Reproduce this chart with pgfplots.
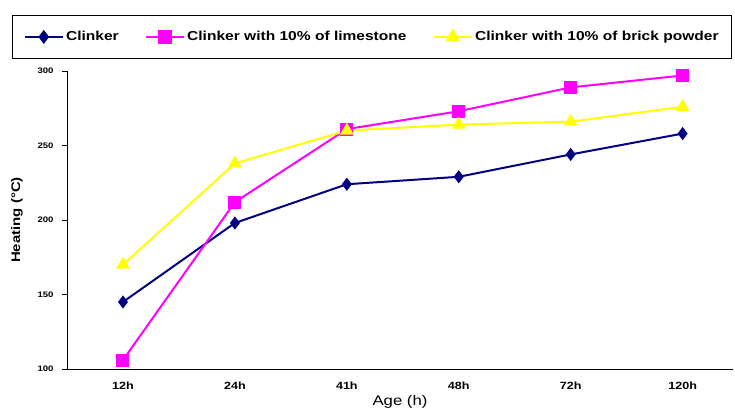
\documentclass[border=0pt]{standalone}
\usepackage{pgfplots}
\pgfplotsset{compat=1.18}
\usepackage{fontspec}
\setmainfont{Liberation Sans}[FakeStretch=1.2]
\definecolor{clk}{RGB}{0,0,128}
\definecolor{lim}{RGB}{255,0,255}
\definecolor{brk}{RGB}{255,255,0}
\begin{document}
\begin{tikzpicture}[x=1bp,y=1bp]
\useasboundingbox (0,0) rectangle (735,407);
\begin{axis}[
    at={(67bp,38bp)}, anchor=south west,
    scale only axis,
    width=666bp, height=298bp,
    xmin=-0.5, xmax=5.45,
    ymin=100, ymax=300,
    axis x line=bottom, axis y line=left,
    x axis line style={-, line width=1pt},
    y axis line style={-, line width=1pt},
    xtick={0,...,5},
    xticklabels={12h,24h,41h,48h,72h,120h},
    extra x ticks={0.5,1.5,2.5,3.5,4.5},
    extra x tick labels={},
    extra x tick style={major tick length=4bp, tick style={black, line width=0.8pt}},
    x tick style={draw=none},
    ytick={100,150,...,300},
    tick align=outside,
    major tick length=5bp,
    y tick style={black, line width=0.8pt},
    xticklabel style={font=\fontsize{10.5}{11}\selectfont\bfseries, yshift=-4bp},
    yticklabel style={font=\fontsize{8}{9}\selectfont\bfseries, xshift=-5bp},
    /pgf/number format/assume math mode=true,
    ylabel={\textbf{Heating (°C)}},
    ylabel style={font=\fontsize{12.5}{13}\selectfont, yshift=8bp},
    xlabel={Age (h)},
    xlabel style={font=\fontsize{14}{15}\selectfont, yshift=10bp},
    legend style={at={(-0.0825,1.188)}, anchor=north west,
      draw=black, line width=1pt, inner ysep=14bp, inner xsep=11bp,
      font=\fontsize{13}{14}\selectfont\bfseries,
      /tikz/every even column/.append style={column sep=24bp}},
    legend columns=3,
    legend image post style={line width=2.5pt},
    legend image code/.code={
      \draw[#1] (0bp,0bp) -- (38bp,0bp);
      \draw[#1, mark repeat=2, mark phase=2] plot coordinates {(0bp,0bp) (19bp,0bp) (38bp,0bp)};},
  ]
  \addplot[clk, line width=2pt, mark=diamond*, mark size=5bp] coordinates {
    (0,145) (1,198) (2,224) (3,229) (4,244) (5,258)};
  \addlegendentry{Clinker}
  \addplot[lim, line width=2pt, mark=square*, mark size=5.5bp] coordinates {
    (0,106) (1,212) (2,261) (3,273) (4,289) (5,297)};
  \addlegendentry{Clinker with 10\% of limestone}
  \addplot[brk, line width=2pt, mark=triangle*, mark size=6bp] coordinates {
    (0,170) (1,238) (2,260) (3,264) (4,266) (5,276)};
  \addlegendentry{Clinker with 10\% of brick powder}
\end{axis}
\end{tikzpicture}
\end{document}
